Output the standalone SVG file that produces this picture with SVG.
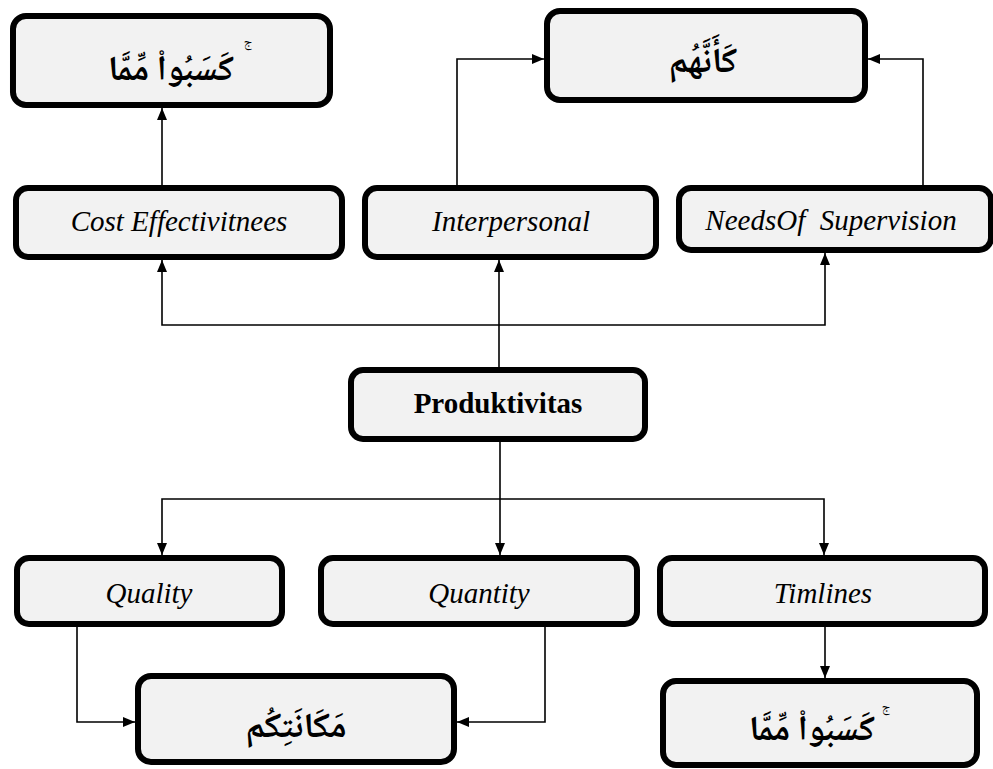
<svg xmlns="http://www.w3.org/2000/svg" width="993" height="769" viewBox="0 0 993 769">
  <style>
    .box { fill: #f2f2f2; stroke: #000; stroke-width: 6; }
    .lbl { font-family: "Liberation Serif", "DejaVu Serif", serif; font-size: 29px; font-style: italic; fill: #000; text-anchor: middle; }
    .main { font-family: "Liberation Serif", "DejaVu Serif", serif; font-size: 29px; font-weight: bold; fill: #000; text-anchor: middle; }
    .ar { font-family: "Noto Naskh Arabic", "Amiri", "DejaVu Sans", sans-serif; font-size: 35px; font-weight: bold; fill: #000; text-anchor: middle; }
    .mark { font-family: "Noto Naskh Arabic", "Amiri", "DejaVu Sans", sans-serif; font-size: 13px; fill: #000; text-anchor: middle; }
    .conn { fill: none; stroke: #000; stroke-width: 1.6; }
  </style>
  <defs>
    <marker id="arrow" viewBox="0 0 12 10" refX="12" refY="5" markerWidth="12" markerHeight="10" markerUnits="userSpaceOnUse" orient="auto">
      <path d="M0,0 L12,5 L0,10 Z" fill="#000"/>
    </marker>
  </defs>

  <!-- connectors -->
  <g id="connectors">
    <path class="conn" d="M162,185 V108" marker-end="url(#arrow)"/>
    <path class="conn" d="M457,185 V59 H544" marker-end="url(#arrow)"/>
    <path class="conn" d="M923,185 V59 H868" marker-end="url(#arrow)"/>
    <path class="conn" d="M499,367 V260" marker-end="url(#arrow)"/>
    <path class="conn" d="M499,325 H162 V260" marker-end="url(#arrow)"/>
    <path class="conn" d="M499,325 H825 V253" marker-end="url(#arrow)"/>
    <path class="conn" d="M500,442 V555" marker-end="url(#arrow)"/>
    <path class="conn" d="M500,499 H162 V555" marker-end="url(#arrow)"/>
    <path class="conn" d="M500,499 H824 V555" marker-end="url(#arrow)"/>
    <path class="conn" d="M77,627 V722 H135" marker-end="url(#arrow)"/>
    <path class="conn" d="M545,627 V722 H457" marker-end="url(#arrow)"/>
    <path class="conn" d="M825,627 V678" marker-end="url(#arrow)"/>
  </g>

  <!-- top row -->
  <g id="node-top-left">
    <rect class="box" x="13" y="16" width="317" height="89" rx="13"/>
    <text class="ar" x="171" y="80" direction="rtl">كَسَبُوا۟ مِّمَّا</text>
    <text class="mark" x="248" y="46">ج</text>
  </g>
  <g id="node-top-center">
    <rect class="box" x="547" y="11" width="318" height="89" rx="13"/>
    <text class="ar" x="703" y="72" direction="rtl">كَأَنَّهُم</text>
  </g>

  <!-- second row -->
  <g id="node-cost">
    <rect class="box" x="16" y="188" width="326" height="69" rx="12"/>
    <text class="lbl" x="179" y="231">Cost Effectivitnees</text>
  </g>
  <g id="node-interpersonal">
    <rect class="box" x="365" y="188" width="291" height="69" rx="12"/>
    <text class="lbl" x="511" y="231">Interpersonal</text>
  </g>
  <g id="node-needs">
    <rect class="box" x="679" y="188" width="312" height="62" rx="12"/>
    <text class="lbl" x="831" y="230" xml:space="preserve">NeedsOf  Supervision</text>
  </g>

  <!-- centre -->
  <g id="node-produktivitas">
    <rect class="box" x="351" y="370" width="294" height="69" rx="12"/>
    <text class="main" x="498" y="413">Produktivitas</text>
  </g>

  <!-- third row -->
  <g id="node-quality">
    <rect class="box" x="17" y="558" width="265" height="66" rx="12"/>
    <text class="lbl" x="149" y="603">Quality</text>
  </g>
  <g id="node-quantity">
    <rect class="box" x="321" y="558" width="316" height="66" rx="12"/>
    <text class="lbl" x="479" y="603">Quantity</text>
  </g>
  <g id="node-timlines">
    <rect class="box" x="660" y="558" width="325" height="66" rx="12"/>
    <text class="lbl" x="823" y="603">Timlines</text>
  </g>

  <!-- bottom row -->
  <g id="node-bottom-center">
    <rect class="box" x="138" y="676" width="316" height="86" rx="13"/>
    <text class="ar" x="296" y="737" direction="rtl">مَكَانَتِكُم</text>
  </g>
  <g id="node-bottom-right">
    <rect class="box" x="663" y="681" width="314" height="84" rx="13"/>
    <text class="ar" x="812" y="740" direction="rtl">كَسَبُوا۟ مِّمَّا</text>
    <text class="mark" x="886" y="711">ج</text>
  </g>
</svg>
